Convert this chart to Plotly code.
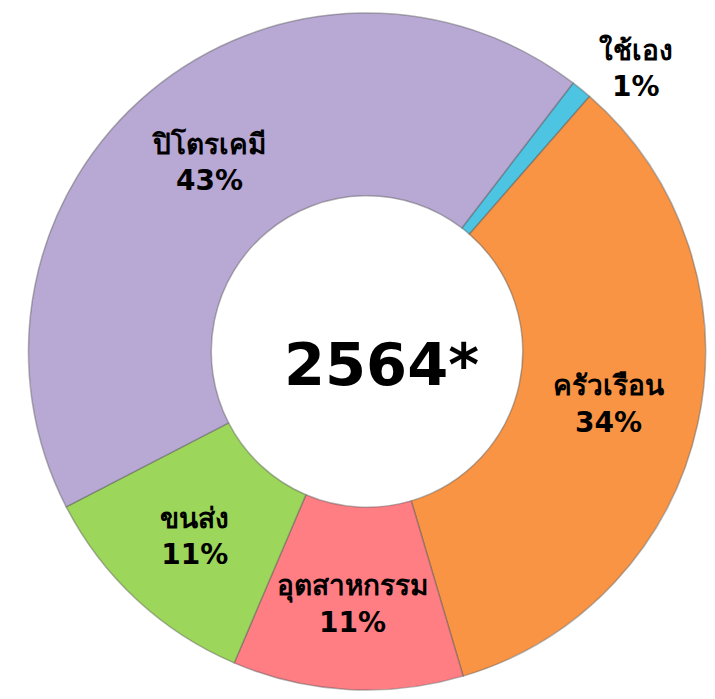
import plotly.graph_objects as go

labels = ["ใช้เอง", "ครัวเรือน", "อุตสาหกรรม", "ขนส่ง", "ปิโตรเคมี"]
values = [1, 34, 11, 11, 43]
colors = ["#4CC4E2", "#F99444", "#FF7E84", "#9CD65A", "#B8A8D4"]
center_text = "2564*"

W, H = 707, 691  # page body has an 8px margin in the 715x699 window

fig = go.Figure(go.Pie(
    labels=labels,
    values=values,
    sort=False,
    direction="clockwise",
    rotation=37.5,
    hole=0.46,
    marker=dict(colors=colors, line=dict(color="rgba(90,90,90,0.45)", width=1.5)),
    texttemplate="<b>%{label}</b><br><b>%{percent:.0%}</b>",
    textposition=["outside", "inside", "inside", "inside", "inside"],
    insidetextorientation="horizontal",
    textfont=dict(family="'DejaVu Sans', Tahoma, sans-serif", size=28, color="black"),
    showlegend=False,
    domain=dict(x=[18/W, 700/W], y=[1-682/H, 1]),
))

fig.add_annotation(
    text=f"<b>{center_text}</b>", x=373.5/W, y=1-354/H, xref="paper", yref="paper",
    showarrow=False, font=dict(family="'DejaVu Sans', Tahoma, sans-serif", size=59, color="black"),
)

fig.update_layout(
    width=W, height=H,
    margin=dict(l=0, r=0, t=0, b=0),
    paper_bgcolor="white", plot_bgcolor="white",
    uniformtext=dict(minsize=28, mode="show"),
)

fig.write_html("out.html")
